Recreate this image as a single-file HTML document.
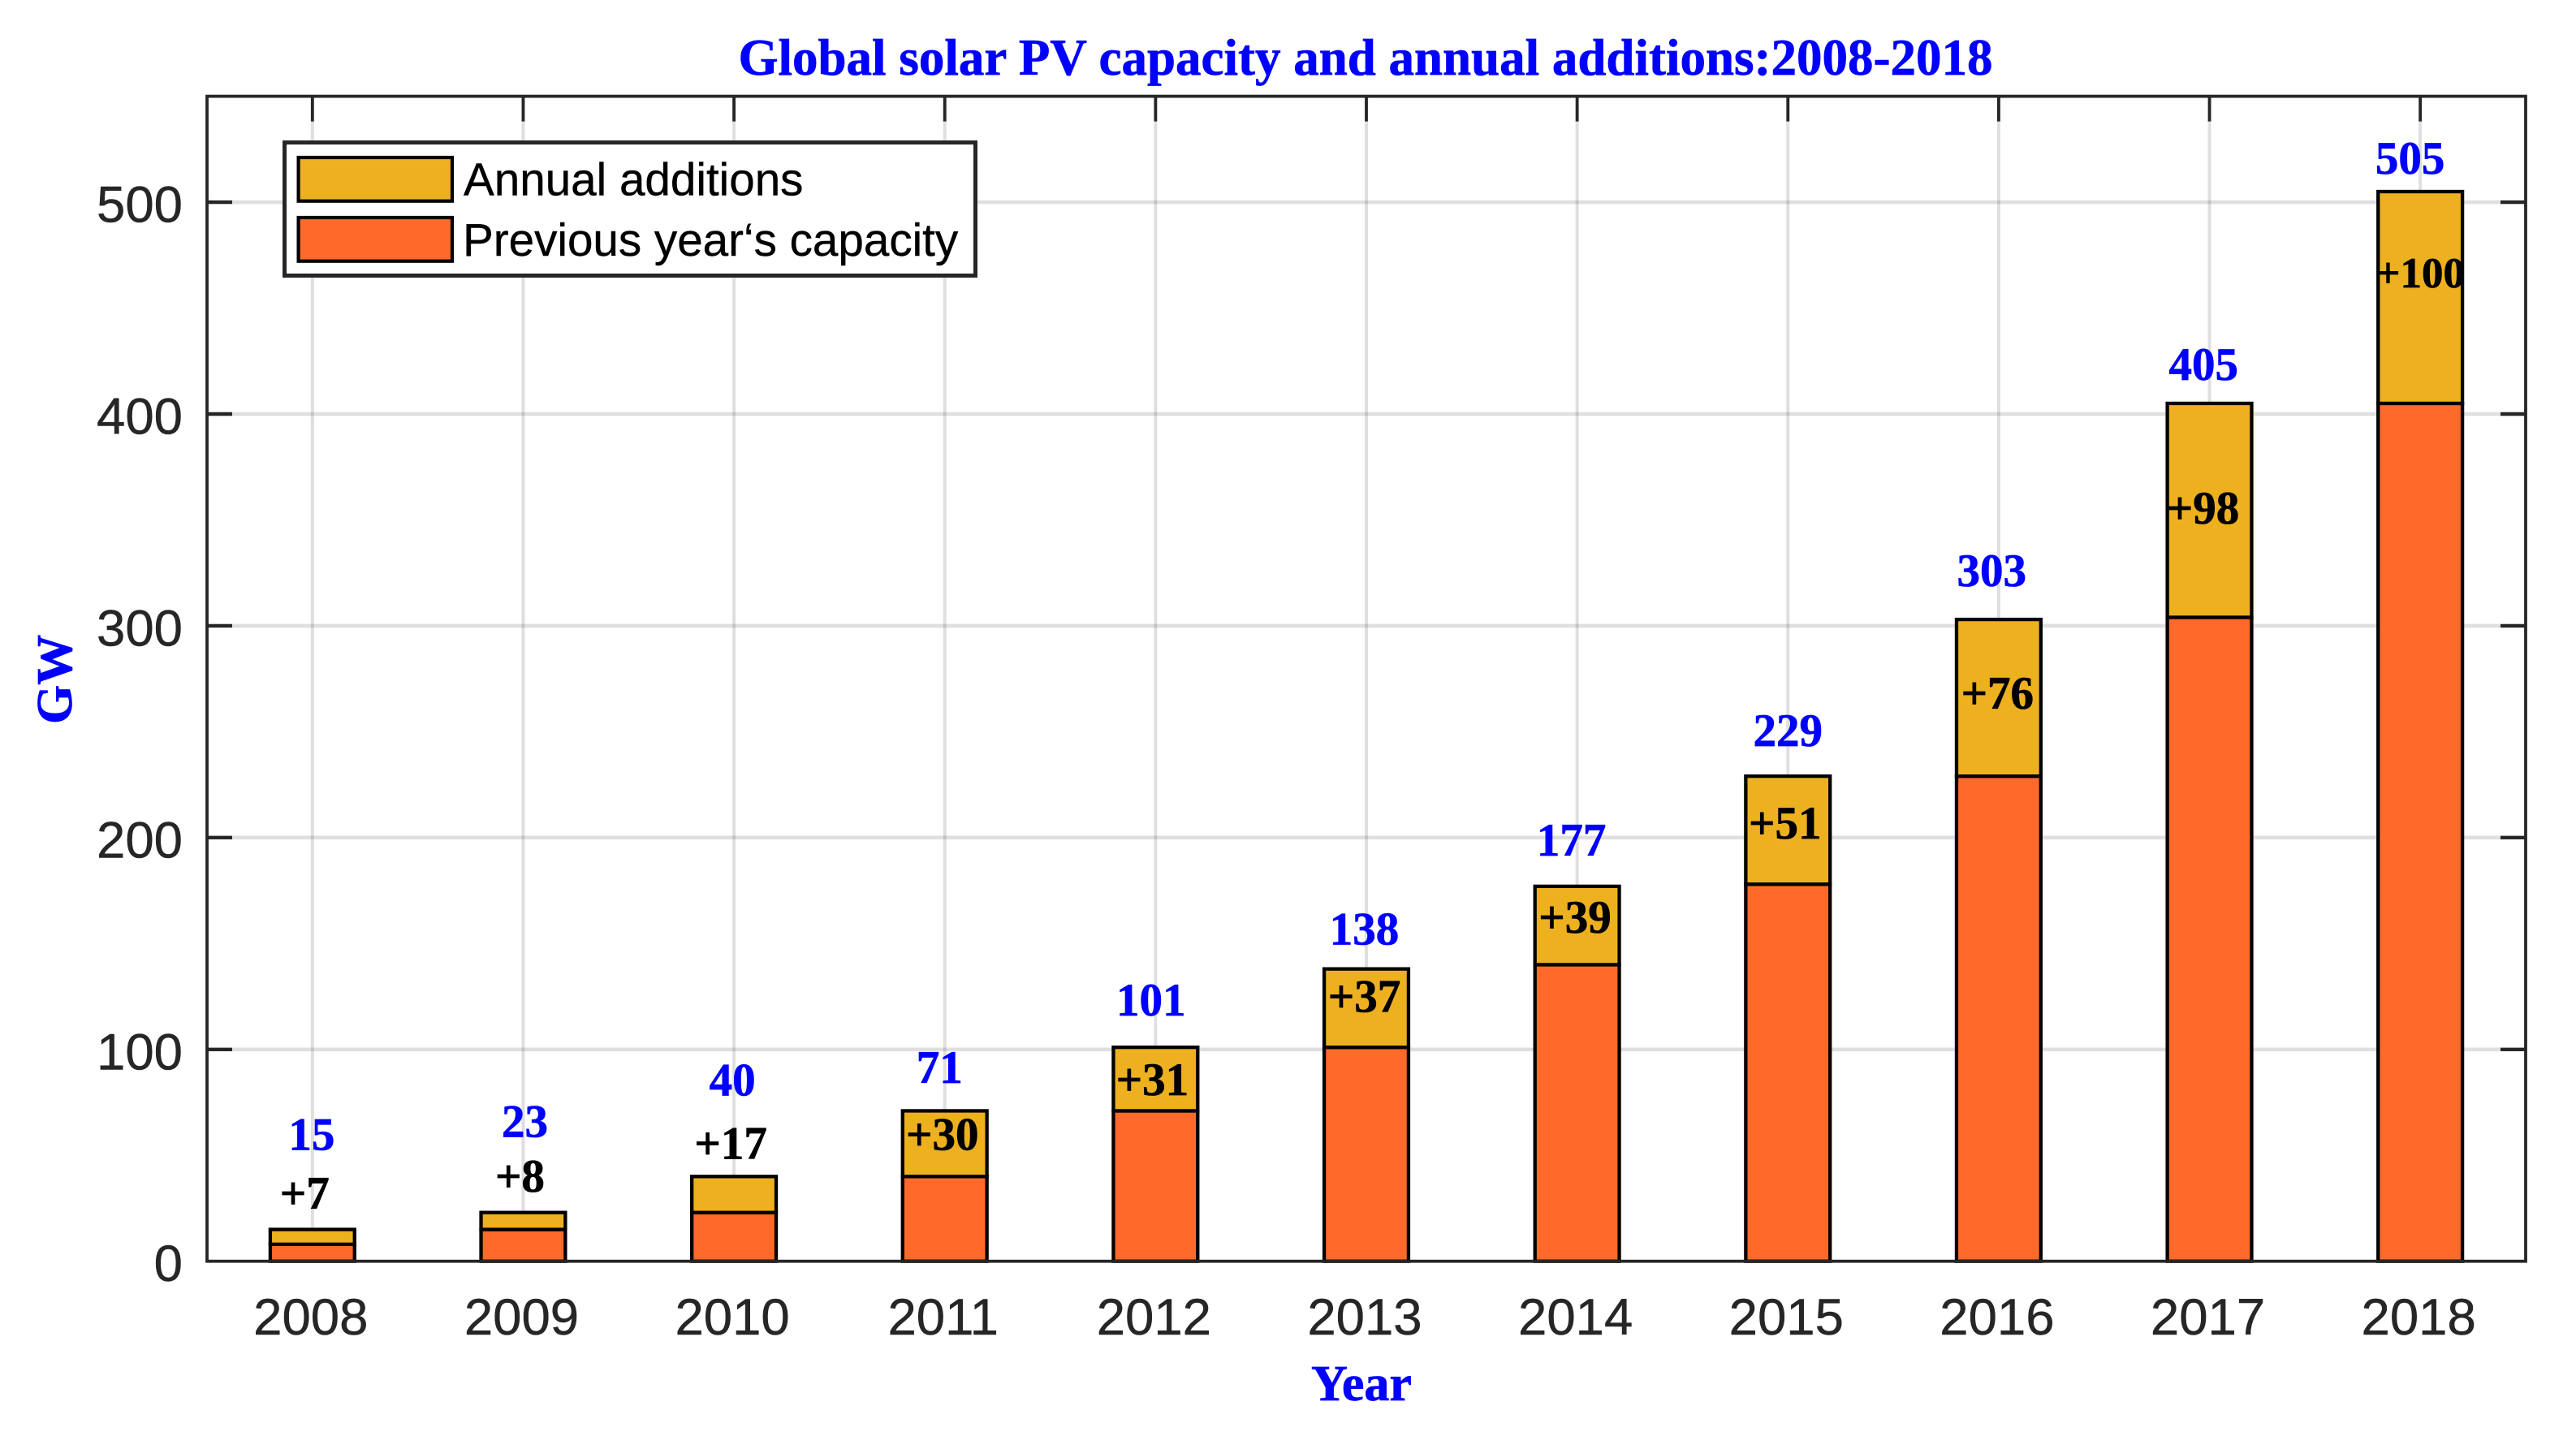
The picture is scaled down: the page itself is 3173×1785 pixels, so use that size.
<!DOCTYPE html>
<html lang="en">
<head>
<meta charset="utf-8">
<title>Global solar PV capacity and annual additions</title>
<style>
html,body{margin:0;padding:0;background:#fff;}
svg{display:block;}
.serif{font-family:"Liberation Serif","Times New Roman",serif;font-weight:bold;}
.sans{font-family:"Liberation Sans",Arial,sans-serif;}
</style>
</head>
<body>
<svg id="chart" xmlns="http://www.w3.org/2000/svg" width="3173" height="1785" viewBox="0 0 3173 1785">
  <rect x="0" y="0" width="3173" height="1785" fill="#ffffff"/>
  <g id="grid"></g>
  <g id="ticks"></g>
  <g id="bars"></g>
  <rect x="255" y="118.6" width="2856" height="1435.1" fill="none" stroke="#262626" stroke-width="3.8"/>
  <g id="tickLabels" class="sans" font-size="63.5" fill="#262626" stroke="#262626" stroke-width="0.5"></g>
  <g id="valueLabels" class="serif" font-size="57" stroke-width="0.7"></g>
  <text class="serif" x="1682" y="92" text-anchor="middle" font-size="63" fill="#0000ff" stroke="#0000ff" stroke-width="0.7">Global solar PV capacity and annual additions:2008-2018</text>
  <text class="serif" x="1677" y="1725" text-anchor="middle" font-size="62" fill="#0000ff" stroke="#0000ff" stroke-width="0.7">Year</text>
  <text class="serif" transform="translate(88 892) rotate(-90)" x="0" y="0" font-size="62" fill="#0000ff" stroke="#0000ff" stroke-width="0.7">GW</text>
  <g>
    <rect x="350.5" y="175.5" width="851" height="164" fill="#ffffff" stroke="#262626" stroke-width="5"/>
    <rect x="367.6" y="194" width="189.4" height="53.7" fill="#EDB120" stroke="#000000" stroke-width="4.2"/>
    <text class="sans" x="571" y="240.7" font-size="56.6" fill="#000000" stroke="#000000" stroke-width="0.4">Annual additions</text>
    <rect x="367.6" y="268" width="189.4" height="53.7" fill="#FF6A2B" stroke="#000000" stroke-width="4.2"/>
    <text class="sans" x="570" y="315" font-size="56.6" fill="#000000" stroke="#000000" stroke-width="0.4">Previous year‘s capacity</text>
  </g>
</svg>
<script>
// Chart data
const years = [2008, 2009, 2010, 2011, 2012, 2013, 2014, 2015, 2016, 2017, 2018];
const previousCapacity = [8, 15, 23, 40, 71, 101, 140, 178, 229, 304, 405];
const totalCapacity = [15, 23, 40, 71, 101, 138, 177, 229, 303, 405, 505];
const additionLabels = [7, 8, 17, 30, 31, 37, 39, 51, 76, 98, 100];
const yTicks = [0, 100, 200, 300, 400, 500];

// Layout (separate from data)
const plot = { left: 255, right: 3111, top: 118.6, bottom: 1553.7 };
const xMin = 2007.5, xMax = 2018.5, yMin = 0, yMax = 550;
const barWidth = 0.4;
const tickLen = 31;
const totalNudge = [[-1, 98], [2, 93], [-2, 100], [-6.5, 34.5], [-5.6, 39], [-2.5, 30], [-7, 38], [0, 37], [-8.6, 41], [-7.3, 29], [-12.6, 22]];
const additionNudge = [[-9.6, 25.6], [-4, 25.7], [-4, 22], [-3, -48], [-4, -59], [-2.5, -53], [-2.6, -57], [-3.5, -77], [-1.6, -110], [-8, -148], [0, -118]];

function xScale(v) { return plot.left + (v - xMin) / (xMax - xMin) * (plot.right - plot.left); }
function yScale(v) { return plot.bottom - (v - yMin) / (yMax - yMin) * (plot.bottom - plot.top); }

const NS = 'http://www.w3.org/2000/svg';
function make(tag, parentId, attrs, text) {
  const el = document.createElementNS(NS, tag);
  for (const k in attrs) el.setAttribute(k, attrs[k]);
  if (text !== undefined) el.textContent = text;
  document.getElementById(parentId).appendChild(el);
  return el;
}

// Grid lines and ticks
years.forEach(function (yr) {
  const x = xScale(yr);
  const grid = make('line', 'grid', { x1: x, x2: x, y1: plot.top, y2: plot.bottom, stroke: '#262626', 'stroke-opacity': 0.15, 'stroke-width': 4 });
  
  
  const topTick = make('line', 'ticks', { x1: x, x2: x, y1: plot.top, y2: plot.top + tickLen, stroke: '#262626', 'stroke-width': 3.8 });
  
  
  const bottomTick = make('line', 'ticks', { x1: x, x2: x, y1: plot.bottom, y2: plot.bottom - tickLen, stroke: '#262626', 'stroke-width': 3.8 });
  
  
  const label = make('text', 'tickLabels', { x: x - 2, y: 1644, 'text-anchor': 'middle' }, String(yr));
  
  
});

yTicks.forEach(function (v) {
  const y = yScale(v);
  if (v !== 0) {
    const grid = make('line', 'grid', { x1: plot.left, x2: plot.right, y1: y, y2: y, stroke: '#262626', 'stroke-opacity': 0.15, 'stroke-width': 4.6 });
    
    
    const leftTick = make('line', 'ticks', { x1: plot.left, x2: plot.left + tickLen, y1: y, y2: y, stroke: '#262626', 'stroke-width': 4.4 });
    
    
    const rightTick = make('line', 'ticks', { x1: plot.right, x2: plot.right - tickLen, y1: y, y2: y, stroke: '#262626', 'stroke-width': 4.4 });
    
    
  }
  const label = make('text', 'tickLabels', { x: 225, y: y + 24.5, 'text-anchor': 'end' }, String(v));
  
  
});

// Bars and value labels
years.forEach(function (yr, i) {
  const w = xScale(yr + barWidth / 2) - xScale(yr - barWidth / 2);
  const left = xScale(yr) - w / 2;
  const yPrev = yScale(previousCapacity[i]);
  const yTotal = yScale(totalCapacity[i]);
  const yZero = yScale(0);

  const prevBar = make('rect', 'bars', { x: left, y: yPrev, width: w, height: yZero - yPrev, fill: '#FF6A2B', stroke: '#000000', 'stroke-width': 4.3 });
  
  

  const addBar = make('rect', 'bars', { x: left, y: yTotal, width: w, height: yPrev - yTotal, fill: '#EDB120', stroke: '#000000', 'stroke-width': 4.3 });
  
  

  const totalLabel = make('text', 'valueLabels', { x: xScale(yr) + totalNudge[i][0], y: yTotal - totalNudge[i][1], 'text-anchor': 'middle', fill: '#0000ff', stroke: '#0000ff' }, String(totalCapacity[i]));
  
  

  const addLabel = make('text', 'valueLabels', { x: xScale(yr) + additionNudge[i][0], y: yTotal - additionNudge[i][1], 'text-anchor': 'middle', fill: '#000000', stroke: '#000000', 'font-size': additionLabels[i] >= 100 ? 53 : 57 }, '+' + additionLabels[i]);
  
  
});
</script>
</body>
</html>
